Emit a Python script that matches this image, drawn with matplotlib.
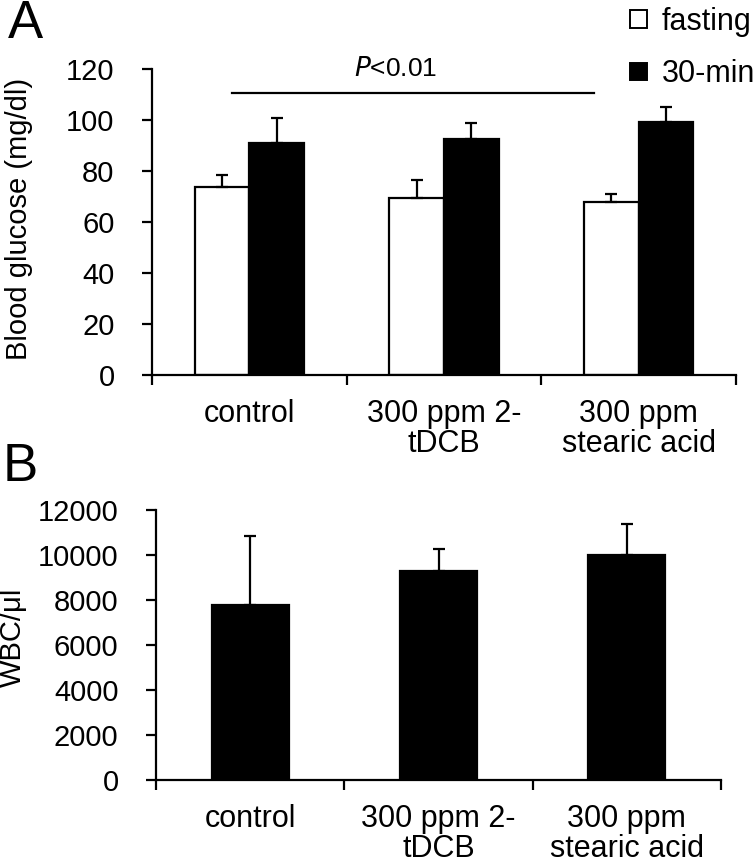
import numpy as np
import matplotlib
matplotlib.use("Agg")
import matplotlib.pyplot as plt
from matplotlib.patches import Patch

plt.rcParams['font.family'] = ['Liberation Sans', 'DejaVu Sans']

groups = ["control", "300 ppm 2-\ntDCB", "300 ppm\nstearic acid"]
fasting = [73.8, 69.5, 68.0]
fasting_err = [4.6, 7.0, 3.0]
min30 = [91.1, 92.7, 99.3]
min30_err = [9.8, 6.0, 5.7]
wbc = [7800, 9300, 10000]
wbc_err = [3040, 980, 1400]

W, H = 756, 865
fig = plt.figure(figsize=(W / 100, H / 100), dpi=100)

def px_axes(x0, x1, y0, y1):
	# pixel box -> figure fraction (y0 top, y1 bottom)
	return fig.add_axes([x0 / W, 1 - y1 / H, (x1 - x0) / W, (y1 - y0) / H])

def style(ax, ymax, ystep):
	for s in ['top', 'right']:
		ax.spines[s].set_visible(False)
	for s in ['left', 'bottom']:
		ax.spines[s].set_linewidth(1.6)
	ax.set_xlim(-0.5, 2.5)
	ax.set_ylim(0, ymax)
	ax.set_yticks(np.arange(0, ymax + 1, ystep))
	ax.set_xticks([-0.5, 0.5, 1.5, 2.5])
	ax.set_xticklabels([])
	ax.set_xticks([0, 1, 2], minor=True)
	ax.set_xticklabels(groups, minor=True, fontsize=22, linespacing=1.0)
	ax.tick_params(axis='x', which='major', length=7, width=1.6, direction='out')
	ax.tick_params(axis='x', which='minor', length=0, pad=17)
	ax.tick_params(axis='y', length=7, width=1.6, direction='out', labelsize=21, pad=20)

x = np.arange(len(groups))
w = 0.28
ek = dict(ecolor='black', elinewidth=1.6, capsize=4, capthick=1.6)

# A: blood glucose
axA = px_axes(152, 736, 69, 375)
axA.bar(x - w / 2, fasting, w, color='white', edgecolor='black', linewidth=1.6,
	yerr=[np.zeros(3), fasting_err], error_kw=ek, zorder=2)
axA.bar(x + w / 2, min30, w, color='black', edgecolor='black', linewidth=1.6,
	yerr=[np.zeros(3), min30_err], error_kw=ek, zorder=2)
style(axA, 120, 20)
axA.plot([-0.09, 1.77], [110.6, 110.6], color='black', lw=1.6, clip_on=False)
axA.text(0.75, 120, "$\\it{P}$<0.01", ha='center', va='center', fontsize=19, clip_on=False)

# B: WBC
axB = px_axes(156, 721, 510, 780)
axB.bar(x, wbc, 0.41, color='black', edgecolor='black', linewidth=1.6,
	yerr=[np.zeros(3), wbc_err], error_kw=ek, zorder=2)
style(axB, 12000, 2000)

fig.text(19 / W, 1 - 219 / H, "Blood glucose (mg/dl)", rotation=90, ha='center', va='center', fontsize=21)
fig.text(13 / W, 1 - 637 / H, "WBC/\u03bcl", rotation=90, ha='center', va='center', fontsize=21)
fig.text(25 / W, 1 - 24 / H, "A", ha='center', va='center', fontsize=38)
fig.text(20 / W, 1 - 467 / H, "B", ha='center', va='center', fontsize=38)

handles = [Patch(facecolor='white', edgecolor='black', linewidth=1.4),
	Patch(facecolor='black', edgecolor='black', linewidth=1.4)]
fig.legend(handles, ["fasting", "30-min"], loc='upper left', bbox_to_anchor=(630 / W, 1 - 7 / H),
	frameon=False, fontsize=22, handlelength=0.55, handleheight=0.5, handletextpad=0.5,
	labelspacing=0.73, borderpad=0, borderaxespad=0)

fig.savefig("out.png", dpi=100)
